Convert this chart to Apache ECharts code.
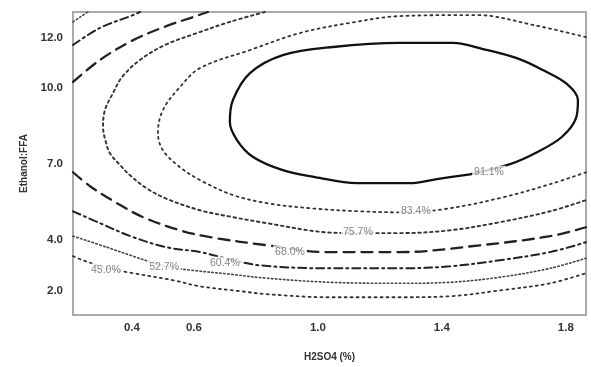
<!DOCTYPE html>
<html><head><meta charset="utf-8">
<script src="https://cdn.jsdelivr.net/npm/echarts@6/dist/echarts.min.js"></script>
<style>html,body{margin:0;padding:0;background:#fff}#c{width:591px;height:367px}</style>
</head><body><div id="c"></div>
<script>
// Tick labels
const xTicks = [0.4, 0.6, 1.0, 1.4, 1.8];
const yTicks = [2.0, 4.0, 7.0, 10.0, 12.0];
// Contour levels
const levelNames = ['91.1%', '83.4%', '75.7%', '68.0%', '60.4%', '52.7%', '45.0%'];
// Contour lines, [H2SO4, Ethanol:FFA]
const c911 = [[1.491,6.60],[1.384,6.41],[1.297,6.25],[1.126,6.25],[0.991,6.49],[0.887,6.76],[0.791,7.28],[0.739,7.95],[0.716,8.66],[0.726,9.53],[0.781,10.59],[0.887,11.30],[1.049,11.62],[1.265,11.78],[1.436,11.78],[1.533,11.54],[1.642,11.18],[1.726,10.71],[1.804,10.16],[1.839,9.53],[1.833,8.82],[1.787,8.07],[1.707,7.47],[1.620,7.00],[1.491,6.60]];
const c834 = [[1.865,12.01],[1.694,12.49],[1.513,12.88],[1.265,12.84],[1.104,12.57],[0.942,12.17],[0.781,11.50],[0.620,10.79],[0.555,10.04],[0.500,9.13],[0.484,8.22],[0.500,7.55],[0.555,6.88],[0.620,6.37],[0.726,5.78],[0.836,5.46],[0.975,5.26],[1.136,5.14],[1.265,5.10],[1.404,5.22],[1.587,5.66],[1.749,6.21],[1.865,6.68]];
const c757 = [[0.829,13.00],[0.716,12.61],[0.610,12.17],[0.507,11.70],[0.426,11.11],[0.368,10.43],[0.339,9.80],[0.313,9.13],[0.307,8.46],[0.316,7.87],[0.329,7.43],[0.362,6.96],[0.394,6.56],[0.442,6.09],[0.507,5.66],[0.620,5.18],[0.726,4.91],[0.836,4.67],[1.029,4.31],[1.136,4.28],[1.265,4.28],[1.426,4.39],[1.587,4.71],[1.749,5.14],[1.865,5.58]];
const c680Top = [[0.210,10.24],[0.297,11.11],[0.404,11.89],[0.513,12.45],[0.597,12.80],[0.645,13.00]];
const c680Bottom = [[0.210,6.68],[0.265,6.13],[0.352,5.46],[0.436,4.91],[0.555,4.39],[0.652,4.12],[0.836,3.80],[1.029,3.53],[1.265,3.53],[1.523,3.80],[1.749,4.16],[1.865,4.51]];
const c604Top = [[0.210,11.70],[0.297,12.37],[0.404,12.88],[0.426,13.00]];
const c604Bottom = [[0.210,5.14],[0.297,4.67],[0.404,4.12],[0.513,3.72],[0.620,3.53],[0.700,3.29],[0.813,3.01],[1.039,2.89],[1.265,2.89],[1.426,2.97],[1.587,3.21],[1.749,3.53],[1.865,3.92]];
const c527Top = [[0.210,12.61],[0.233,12.80],[0.258,13.00]];
const c527Bottom = [[0.210,4.16],[0.320,3.72],[0.394,3.41],[0.507,2.97],[0.597,2.81],[0.716,2.66],[0.836,2.50],[1.039,2.34],[1.265,2.30],[1.426,2.34],[1.587,2.54],[1.749,2.89],[1.865,3.29]];
const c450 = [[0.210,3.37],[0.242,3.21],[0.320,2.89],[0.404,2.70],[0.533,2.42],[0.620,2.18],[0.749,1.99],[0.836,1.87],[1.039,1.75],[1.265,1.75],[1.426,1.79],[1.587,2.02],[1.749,2.30],[1.865,2.70]];
// Where each level's label sits on its line
const labelSpots = [[1.552,6.68],[1.316,5.14],[1.129,4.31],[0.910,3.53],[0.700,3.09],[0.504,2.93],[0.316,2.81]];

const styles = {
  '91.1%': {type:'solid', width:2.3, color:'#111'},
  '83.4%': {type:[2,4], width:1.8, color:'#333'},
  '75.7%': {type:[2.5,3.5], width:1.9, color:'#333'},
  '68.0%': {type:[11,7], width:2.3, color:'#222'},
  '60.4%': {type:[8,4,2,4], width:2, color:'#222'},
  '52.7%': {type:[1.5,2.5], width:1.6, color:'#444'},
  '45.0%': {type:[2,4], width:1.8, color:'#333'}
};
const lines = [
  ['91.1%', c911], ['83.4%', c834], ['75.7%', c757],
  ['68.0%', c680Top], ['68.0%', c680Bottom],
  ['60.4%', c604Top], ['60.4%', c604Bottom],
  ['52.7%', c527Top], ['52.7%', c527Bottom],
  ['45.0%', c450]
];
const FONT = 'Liberation Sans, Arial, sans-serif';
const series = lines.map(([lv, pts]) => ({
  type: 'line', data: pts, showSymbol: false, smooth: 0.35, silent: true,
  lineStyle: {type: styles[lv].type, width: styles[lv].width, color: styles[lv].color, cap: 'round'},
  z: 2
}));
series.push({
  type: 'scatter', symbolSize: 0, silent: true, z: 5,
  data: labelSpots.map((p, i) => ({value: p, name: levelNames[i]})),
  label: {show: true, position: 'inside', formatter: p => p.name,
    fontFamily: FONT, fontSize: 10.5, color: '#666', backgroundColor: '#fff', padding: [1, 2]}
});

const chart = echarts.init(document.getElementById('c'), null, {renderer: 'canvas'});
chart.setOption({
  animation: false,
  backgroundColor: '#fff',
  grid: {left: 73, right: 5, top: 12, bottom: 51, show: true, borderColor: '#aaa', borderWidth: 2, backgroundColor: '#fff'},
  xAxis: {
    type: 'value', min: 0.21, max: 1.865,
    name: 'H2SO4 (%)', nameLocation: 'middle', nameGap: 37,
    nameTextStyle: {fontFamily: FONT, fontSize: 10, fontWeight: 'bold', color: '#333'},
    axisLine: {show: false}, splitLine: {show: false},
    axisTick: {show: false},
    axisLabel: {customValues: xTicks, formatter: v => v.toFixed(1), margin: 7,
      fontFamily: FONT, fontSize: 11.5, fontWeight: 'bold', color: '#333'}
  },
  yAxis: {
    type: 'value', min: 1.05, max: 13.0,
    name: 'Ethanol:FFA', nameLocation: 'middle', nameGap: 41,
    nameTextStyle: {fontFamily: FONT, fontSize: 10, fontWeight: 'bold', color: '#333'},
    axisLine: {show: false}, splitLine: {show: false},
    axisTick: {show: false},
    axisLabel: {customValues: yTicks, formatter: v => v.toFixed(1), margin: 10,
      fontFamily: FONT, fontSize: 11.5, fontWeight: 'bold', color: '#333'}
  },
  series: series
});
</script></body></html>
